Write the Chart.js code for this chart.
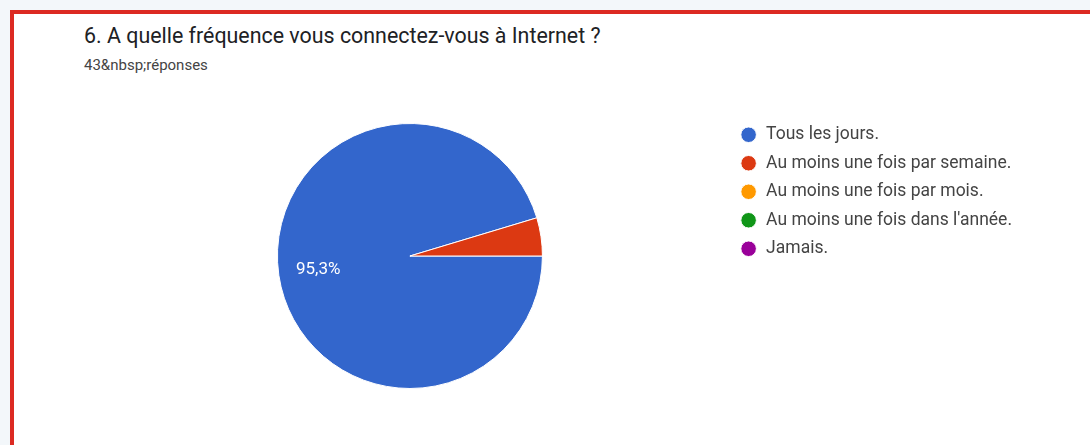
<!DOCTYPE html>
<html>
<head>
<meta charset="utf-8">
<script src="https://cdn.jsdelivr.net/npm/chart.js@4.4.0/dist/chart.umd.min.js"></script>
<style>
  html, body { margin: 0; padding: 0; background: #f3f7fa; }
  body { width: 1090px; height: 445px; overflow: hidden; position: relative; font-family: Roboto, Arial, sans-serif; }
  #card {
    position: absolute; left: 10px; top: 10px; width: 1080px; height: 435px;
    background: #fff; border-top: 4px solid #dc2a22; border-left: 4px solid #dc2a22;
  }
  #title { position: absolute; left: 84px; top: 23px; font-family: Roboto, sans-serif; font-size: 21.4px; color: #202124; white-space: nowrap; }
  #sub { position: absolute; left: 84px; top: 56px; font-size: 15px; color: #444; white-space: nowrap; }
  #wrap { position: absolute; left: 0; top: 100px; width: 1090px; height: 330px; }
</style>
</head>
<body>
<div id="card"></div>
<div id="title">6. A quelle fréquence vous connectez-vous à Internet ?</div>
<div id="sub">43&amp;nbsp;réponses</div>
<div id="wrap"><canvas id="pie"></canvas></div>
<script>
// réponses au sondage
const labels = ['Tous les jours.', 'Au moins une fois par semaine.', 'Au moins une fois par mois.', "Au moins une fois dans l'année.", 'Jamais.'];
const counts = [41, 2, 0, 0, 0];
const colors = ['#3366cc', '#dc3912', '#ff9900', '#109618', '#990099'];

const total = counts.reduce((a, b) => a + b, 0);

// pourcentages dans les parts (comme Google Forms)
const pctLabels = {
  id: 'pctLabels',
  afterDatasetsDraw(chart) {
    const ctx = chart.ctx;
    const meta = chart.getDatasetMeta(0);
    ctx.save();
    ctx.fillStyle = '#fff';
    ctx.font = '17px Roboto, Arial, sans-serif';
    ctx.textAlign = 'center';
    ctx.textBaseline = 'middle';
    meta.data.forEach((arc, i) => {
      const v = counts[i] / total;
      if (v < 0.05) return;
      const p = arc.getProps(['x', 'y', 'startAngle', 'endAngle', 'outerRadius'], true);
      const mid = (p.startAngle + p.endAngle) / 2;
      const r = p.outerRadius * 0.7;
      const txt = (v * 100).toFixed(1).replace('.', ',') + '%';
      ctx.fillText(txt, p.x + Math.cos(mid) * r, p.y + Math.sin(mid) * r);
    });
    ctx.restore();
  }
};

// remonte un peu la légende
const legendShift = {
  id: 'legendShift',
  afterLayout(chart) {
    chart.legend.top -= 8;
    chart.legend.bottom -= 8;
  }
};

new Chart(document.getElementById('pie'), {
  type: 'pie',
  data: {
    labels: labels,
    datasets: [{
      data: counts,
      backgroundColor: colors,
      borderColor: '#fff',
      borderWidth: 1
    }]
  },
  options: {
    responsive: true,
    maintainAspectRatio: false,
    animation: false,
    rotation: 90,
    layout: { padding: { left: 91, right: 68, top: 23, bottom: 41 } },
    plugins: {
      legend: {
        position: 'right',
        align: 'start',
        labels: {
          usePointStyle: true,
          pointStyle: 'circle',
          boxWidth: 17.5,
          boxHeight: 11,
          padding: 11,
          color: '#444',
          font: { family: 'Roboto, Arial, sans-serif', size: 17.5 }
        }
      },
      tooltip: { enabled: false }
    }
  },
  plugins: [pctLabels, legendShift]
});
</script>
</body>
</html>
